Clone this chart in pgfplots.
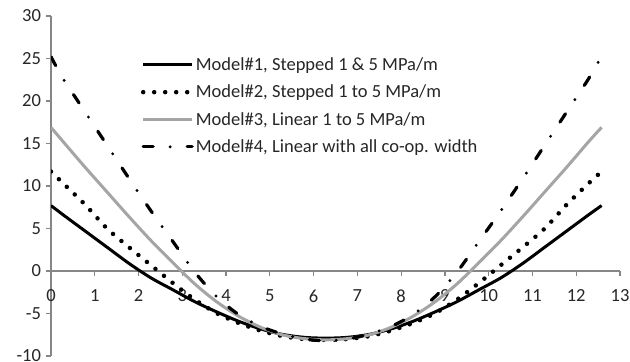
\documentclass[border=0pt]{standalone}
\usepackage{pgfplots}
\pgfplotsset{compat=1.18}
\usepackage{pgfplotstable}
\usepackage{fontspec}
\setmainfont{Carlito}
\definecolor{axgray}{RGB}{134,134,134}
\definecolor{mgray}{RGB}{165,165,165}
\pgfplotstableread{
x m1 m2 m3 m4
0.00 7.7 11.7 16.9 25.2
0.28 6.6 10.3 15.2 22.6
0.78 4.7 7.8 12.2 18.7
1.28 2.8 5.0 9.3 14.8
1.78 0.9 2.8 6.4 10.9
2.28 -0.8 0.7 3.6 7.1
2.78 -2.2 -1.4 1.0 3.5
3.28 -3.6 -3.35 -1.5 -0.1
3.78 -4.8 -4.95 -3.6 -3.0
4.28 -5.9 -6.1 -5.3 -5.1
4.78 -6.8 -7.0 -6.6 -6.5
5.28 -7.45 -7.65 -7.5 -7.4
5.78 -7.8 -8.0 -7.95 -8.0
6.28 -7.9 -8.1 -8.1 -8.2
6.78 -7.8 -8.0 -7.95 -8.0
7.28 -7.45 -7.65 -7.5 -7.4
7.78 -6.8 -7.0 -6.6 -6.5
8.28 -5.9 -6.1 -5.3 -5.1
8.78 -4.8 -4.95 -3.6 -3.0
9.28 -3.6 -3.35 -1.5 -0.1
9.78 -2.2 -1.4 1.0 3.5
10.28 -0.8 0.7 3.6 7.1
10.78 0.9 2.8 6.4 10.9
11.28 2.8 5.0 9.3 14.8
11.78 4.7 7.8 12.2 18.7
12.28 6.6 10.3 15.2 22.6
12.58 7.7 11.7 16.9 25.3
}\data
\begin{document}
\begin{tikzpicture}
\useasboundingbox (0,0) rectangle (630bp,362bp);
\begin{axis}[
  at={(51bp,6bp)}, anchor=south west,
  scale only axis, width=569bp, height=340bp,
  xmin=0, xmax=13, ymin=-10, ymax=30,
  axis x line=middle, axis y line=left,
  hide obscured x ticks=false, hide obscured y ticks=false,
  axis line style={-, axgray, line width=1.3bp},
  xtick={0,1,...,13}, xticklabels={0,1,2,3,4,5,6,7,8,9,10,11,12,13},
  ytick={-10,-5,0,5,10,15,20,25,30}, yticklabels={-10,-5,0,5,10,15,20,25,30},
  tick align=outside, major tick length=5bp,
  tick style={axgray, line width=1.2bp},
  ticklabel style={font=\fontsize{18.5bp}{20bp}\selectfont, text=black!85},
  xticklabel style={anchor=north, yshift=-10bp},
  yticklabel style={anchor=east, xshift=-1.5bp},
  legend style={draw=none, fill=none, at={(axis cs:2.05,25.3)}, anchor=north west,
    font=\fontsize{18.5bp}{20bp}\selectfont, inner sep=0pt, row sep=10bp,
    nodes={inner sep=1.5bp, text=black!85}},
  legend cell align=left,
  legend image code/.code={\draw[#1] (0bp,0bp) -- (49bp,0bp);},
]
\addplot[black, line width=3bp, smooth] table[x=x, y=m1] {\data};
\addlegendentry{Model\#1, Stepped 1 \& 5 MPa/m}
\addplot[black, line width=4.5bp, line cap=round, dash pattern=on 0bp off 11bp, smooth] table[x=x, y=m2] {\data};
\addlegendentry{Model\#2, Stepped 1 to 5 MPa/m}
\addplot[mgray, line width=3bp, smooth] table[x=x, y=m3] {\data};
\addlegendentry{Model\#3, Linear 1 to 5 MPa/m}
\addplot[black, line width=3.2bp, line cap=round, dash pattern=on 10bp off 17bp on 0bp off 17bp, smooth] table[x=x, y=m4] {\data};
\addlegendentry{Model\#4, Linear with all co-op. width}
\end{axis}
\end{tikzpicture}
\end{document}
